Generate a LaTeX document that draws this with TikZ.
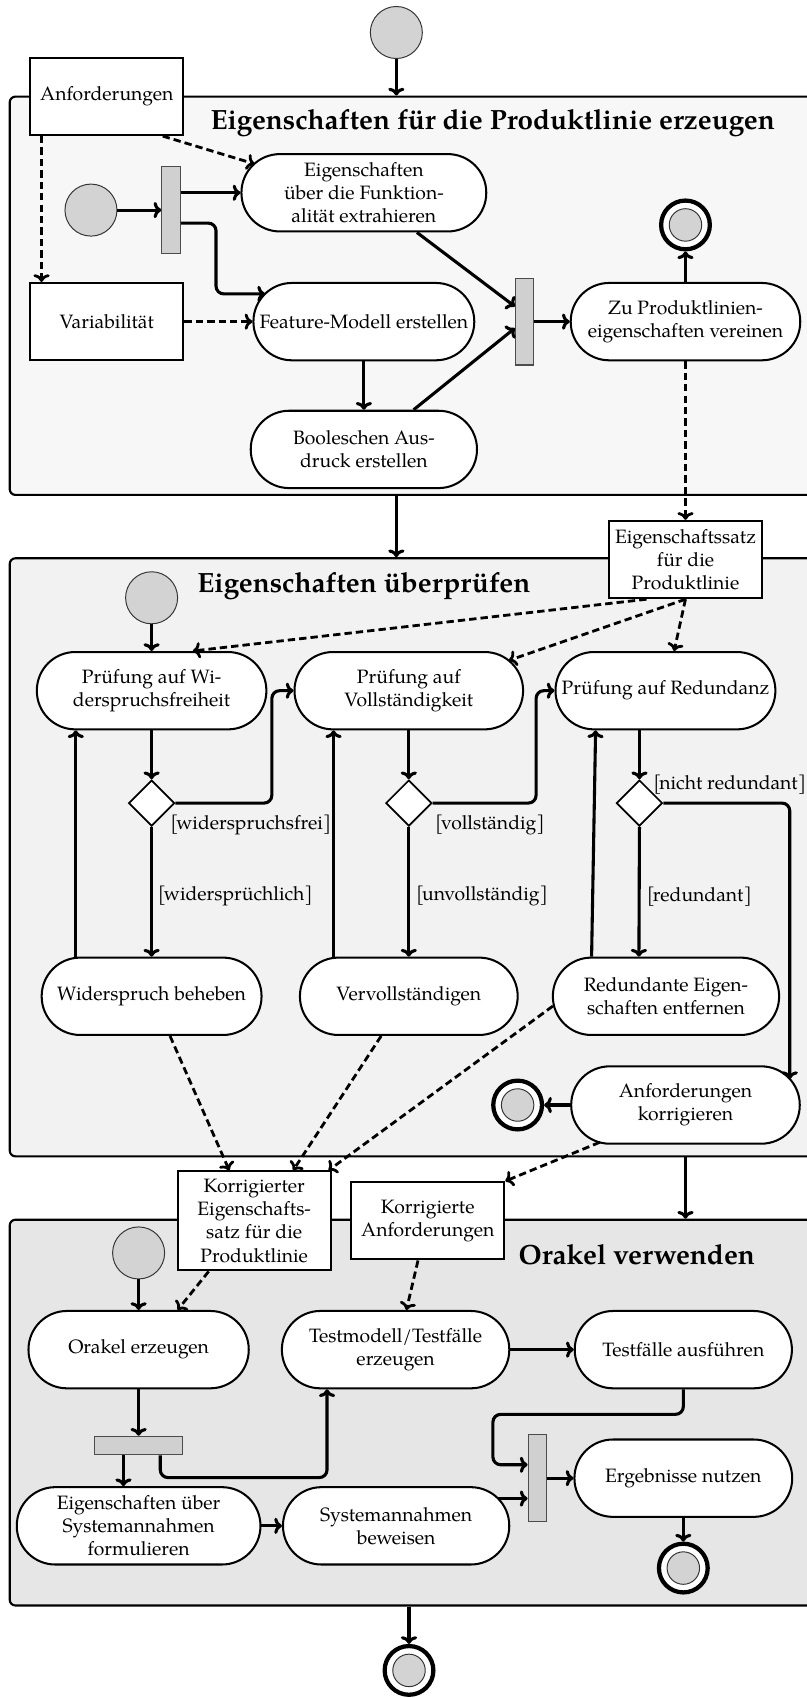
\documentclass[tikz,border=0pt]{standalone}
\usepackage{fontspec}
\setmainfont{TeX Gyre Pagella}
\usetikzlibrary{arrows.meta,shapes.geometric,calc}

\definecolor{laneA}{HTML}{F7F7F7}
\definecolor{laneB}{HTML}{F2F2F2}
\definecolor{laneC}{HTML}{E6E6E6}
\definecolor{dotgray}{HTML}{D3D3D3}
\definecolor{bargray}{HTML}{D0D0D0}

\newcommand\grd[1]{[\kern-1.2pt#1]}

\begin{document}
\begin{tikzpicture}[x=0.56pt,y=-0.56pt,
  lane/.style={draw=black, line width=1.1pt, rounded corners=3pt, minimum width=420.6pt, inner sep=0pt},
  act/.style={draw=black, line width=1.05pt, fill=white, rectangle, rounded corners=19.9pt,
    minimum height=40pt, align=center, inner sep=2pt},
  obj/.style={draw=black, line width=1.05pt, fill=white, rectangle, minimum width=79.2pt,
    minimum height=40pt, align=center, inner sep=2pt},
  startnode/.style={circle, draw=black!80, line width=0.5pt, fill=dotgray, minimum size=26.9pt, inner sep=0pt},
  endnode/.style={circle, draw=black, line width=2.2pt, fill=white, minimum size=25.2pt, inner sep=0pt,
    path picture={\draw[line width=0.5pt, draw=black!80, fill=dotgray]
      (path picture bounding box.center) circle (8.4pt);}},
  vbar/.style={draw=black!70, line width=0.6pt, fill=bargray, minimum width=9.5pt, minimum height=44.8pt, inner sep=0pt},
  hbar/.style={draw=black!70, line width=0.6pt, fill=bargray, minimum width=45.2pt, minimum height=9.5pt, inner sep=0pt},
  choice/.style={diamond, draw=black, line width=0.9pt, fill=white, minimum width=23.8pt,
    minimum height=23.8pt, inner sep=0pt},
  ttl/.style={font=\Large\bfseries, inner sep=0pt},
  guard/.style={inner sep=0pt, anchor=west},
  arr/.style={line width=1.6pt, -{To[length=4pt,width=8.4pt]}},
  dsh/.style={arr, line width=1.45pt, dash pattern=on 3.8pt off 2.1pt},
  rc/.style={rounded corners=4pt}
]
\useasboundingbox (0,0) rectangle (745,1568);

% ---- swimlane-like activity frames
\node[lane, fill=laneA, minimum height=206pt]   (FR1) at (384.5,273.1) {};
\node[lane, fill=laneB, minimum height=309.3pt] (FR2) at (384.5,791.65) {};
\node[lane, fill=laneC, minimum height=199.5pt] (FR3) at (384.5,1304.45) {};

% ---- activity 1: Eigenschaften fuer die Produktlinie erzeugen
\node[startnode] (I1) at (366,30) {};
\node[ttl] (T1) at (455,114) {Eigenschaften für die Produktlinie erzeugen};
\node[obj] (Anf) at (98.6,89) {Anforderungen};
\node[obj] (Var) at (98.6,297) {Variabilität};
\node[startnode] (I2) at (84,194) {};
\node[vbar] (Bar1) at (158,194) {};
\node[act, minimum width=126.6pt] (E1) at (336,178) {Eigenschaften\\über die Funktion-\\alität extrahieren};
\node[act, minimum width=114.2pt] (F) at (336,297) {Feature-Modell erstellen};
\node[act, minimum width=117pt] (B) at (336,415) {Booleschen Aus-\\druck erstellen};
\node[vbar] (Bar2) at (484.5,297) {};
\node[act, minimum width=118.7pt] (Z) at (633,297) {Zu Produktlinien-\\eigenschaften vereinen};
\node[endnode] (FC1) at (633,207.7) {};
\node[obj] (ES) at (633,516.7) {Eigenschaftssatz\\für die\\Produktlinie};

\draw[arr] (I1) -- (I1 |- FR1.north);
\draw[dsh] ($(Anf.south west)+(11.4,0)$) -- ($(Var.north west)+(11.4,0)$);
\draw[dsh] ($(Anf.south east)+(-20,0)$) -- ($(E1.center)+(-101.1,-26.7)$);
\draw[dsh] (Var.east) -- (F.west);
\draw[arr] (I2) -- (Bar1);
\draw[arr] (Bar1.east |- E1.west) -- (E1.west);
\draw[arr, rc] ($(Bar1.east)+(0,12)$) -| ($(F.center)+(-136.5,-25.6)$) -- ($(F.center)+(-91.2,-25.6)$);
\draw[arr] (F) -- (B);
\draw[arr] ($(E1.south)+(49,0)$) -- ($(Bar2.west)+(0,-14)$);
\draw[arr] ($(B.north)+(46,0)$) -- ($(Bar2.west)+(0,6)$);
\draw[arr] (Bar2) -- (Z);
\draw[arr] (Z) -- (FC1);
\draw[dsh] (Z) -- (ES);
\draw[arr] (FR1.south -| I1) -- (FR2.north -| I1);

% ---- activity 2: Eigenschaften ueberpruefen
\node[ttl] (T2) at (336,541.6) {Eigenschaften überprüfen};
\node[startnode] (I3) at (140,552) {};
\node[act, minimum width=118.7pt] (P1) at (140,637.8) {Prüfung auf Wi-\\derspruchsfreiheit};
\node[act, minimum width=118.2pt] (P2) at (377.5,637.8) {Prüfung auf\\Vollständigkeit};
\node[act, minimum width=113.7pt] (P3) at (614.5,637.8) {Prüfung auf Redundanz};
\node[choice] (D1) at (140,741.6) {};
\node[choice] (D2) at (377.5,741.6) {};
\node[choice] (D3) at (590.5,741.6) {};
\node[act, minimum width=113.7pt] (W) at (140,920) {Widerspruch beheben};
\node[act, minimum width=112.6pt] (V) at (377.5,920) {Vervollständigen};
\node[act, minimum width=117pt] (R) at (615,920) {Redundante Eigen-\\schaften entfernen};
\node[act, minimum width=118.2pt] (AK) at (633,1020.4) {Anforderungen\\korrigieren};
\node[endnode] (FC2) at (478,1020.4) {};

\node[guard] (G1) at (157,761.6) {\grd{widerspruchsfrei}};
\node[guard] (G2) at (145.5,827.8) {\grd{widersprüchlich}};
\node[guard] (G3) at (401.5,761.6) {\grd{vollständig}};
\node[guard] (G4) at (384,827.8) {\grd{unvollständig}};
\node[guard] (G5) at (603,724.7) {\grd{nicht redundant}};
\node[guard] (G6) at (597,827.8) {\grd{redundant}};

\draw[dsh] ($(ES.south)+(-36,0)$) -- ($(P1.north)+(38,0)$);
\draw[dsh] (ES.south) -- ($(P2.center)+(92.5,-28)$);
\draw[dsh] (ES.south) -- ($(P3.north)+(8,0)$);
\draw[arr] (I3) -- (P1);
\draw[arr] (P1) -- (D1);
\draw[arr] (D1) -- (W);
\draw[arr] ($(W.north)+(-70,0)$) -- ($(P1.south)+(-70,0)$);
\draw[arr, rc] (D1.east) -| ($(P2.west)+(-20,0)$) -- (P2.west);
\draw[arr] (P2) -- (D2);
\draw[arr] (D2) -- (V);
\draw[arr] ($(V.north)+(-69.5,0)$) -- ($(P2.south)+(-69.5,0)$);
\draw[arr, rc] (D2.east) -| ($(P3.west)+(-17,0)$) -- (P3.west);
\draw[arr] ($(P3.south)+(-24,0)$) -- (D3.north);
\draw[arr] (D3.south) -- ($(R.north)+(-25,0)$);
\draw[arr] ($(R.north)+(-68.7,0)$) -- ($(P3.south)+(-64.5,0)$);
\draw[arr, rc] (D3.east) -| ($(AK.center)+(96.3,-24)$);
\draw[arr] (AK) -- (FC2);

% ---- objects passed to the third activity
\node[obj, minimum height=51.2pt] (KE) at (234.7,1127.4) {Korrigierter\\Eigenschafts-\\satz für die\\Produktlinie};
\node[obj] (KA) at (395,1127.3) {Korrigierte\\Anforderungen};

\draw[dsh] ($(W.south)+(17,0)$) -- ($(KE.north)+(-23,0)$);
\draw[dsh] ($(V.south)+(-25.5,0)$) -- ($(KE.north)+(36,0)$);
\draw[dsh] ($(R.west)+(1,9)$) -- ($(KE.north east)+(-3,0)$);
\draw[dsh] ($(AK.center)+(-79.1,34.4)$) -- (KA.north east);
\draw[arr] (FR2.south -| AK) -- (FR3.north -| AK);

% ---- activity 3: Orakel verwenden
\node[ttl] (T3) at (588,1158.6) {Orakel verwenden};
\node[startnode] (I4) at (128,1157) {};
\node[act, minimum width=113.9pt] (O) at (128,1246.3) {Orakel erzeugen};
\node[act, minimum width=117.6pt] (T) at (365.3,1246.3) {Testmodell/Testfälle\\erzeugen};
\node[act, minimum width=112.3pt] (TA) at (631,1246.3) {Testfälle ausführen};
\node[hbar] (Bar3) at (128,1334.8) {};
\node[act, minimum width=126pt] (EU) at (128,1409) {Eigenschaften über\\Systemannahmen\\formulieren};
\node[act, minimum width=117pt] (SB) at (365.8,1409) {Systemannahmen\\beweisen};
\node[vbar] (Bar4) at (496.2,1365) {};
\node[act, minimum width=112.6pt] (EN) at (631,1365) {Ergebnisse nutzen};
\node[endnode] (FC3) at (631,1448) {};
\node[endnode] (FC4) at (377.7,1542.5) {};
\coordinate (SBout) at ($(SB.center)+(94.1,-25.2)$);

\draw[arr] (I4) -- (O);
\draw[dsh] ($(KE.south)+(-42,0)$) -- ($(O.north)+(36,0)$);
\draw[dsh] ($(KA.south)+(-9,0)$) -- ($(T.north)+(10,0)$);
\draw[arr] (O) -- (Bar3);
\draw[arr] ($(Bar3.south)+(-14,0)$) -- ($(EU.north)+(-14,0)$);
\draw[arr, rc] ($(Bar3.south)+(20,0)$) |- ($(T.south)+(-63.3,81.5)$) -- ($(T.south)+(-63.3,0)$);
\draw[arr] (T) -- (TA);
\draw[arr] (EU) -- (SB);
\draw[arr, rc] (TA.south) -- ($(TA.south)+(0,23.1)$) -| ($(Bar4.west)+(-32,-12.4)$) -- ($(Bar4.west)+(0,-12.4)$);
\draw[arr] (SBout) -- (SBout -| Bar4.west);
\draw[arr] (Bar4) -- (EN);
\draw[arr] (EN) -- (FC3);
\draw[arr] (FR3.south -| FC4) -- (FC4);
\end{tikzpicture}
\end{document}
